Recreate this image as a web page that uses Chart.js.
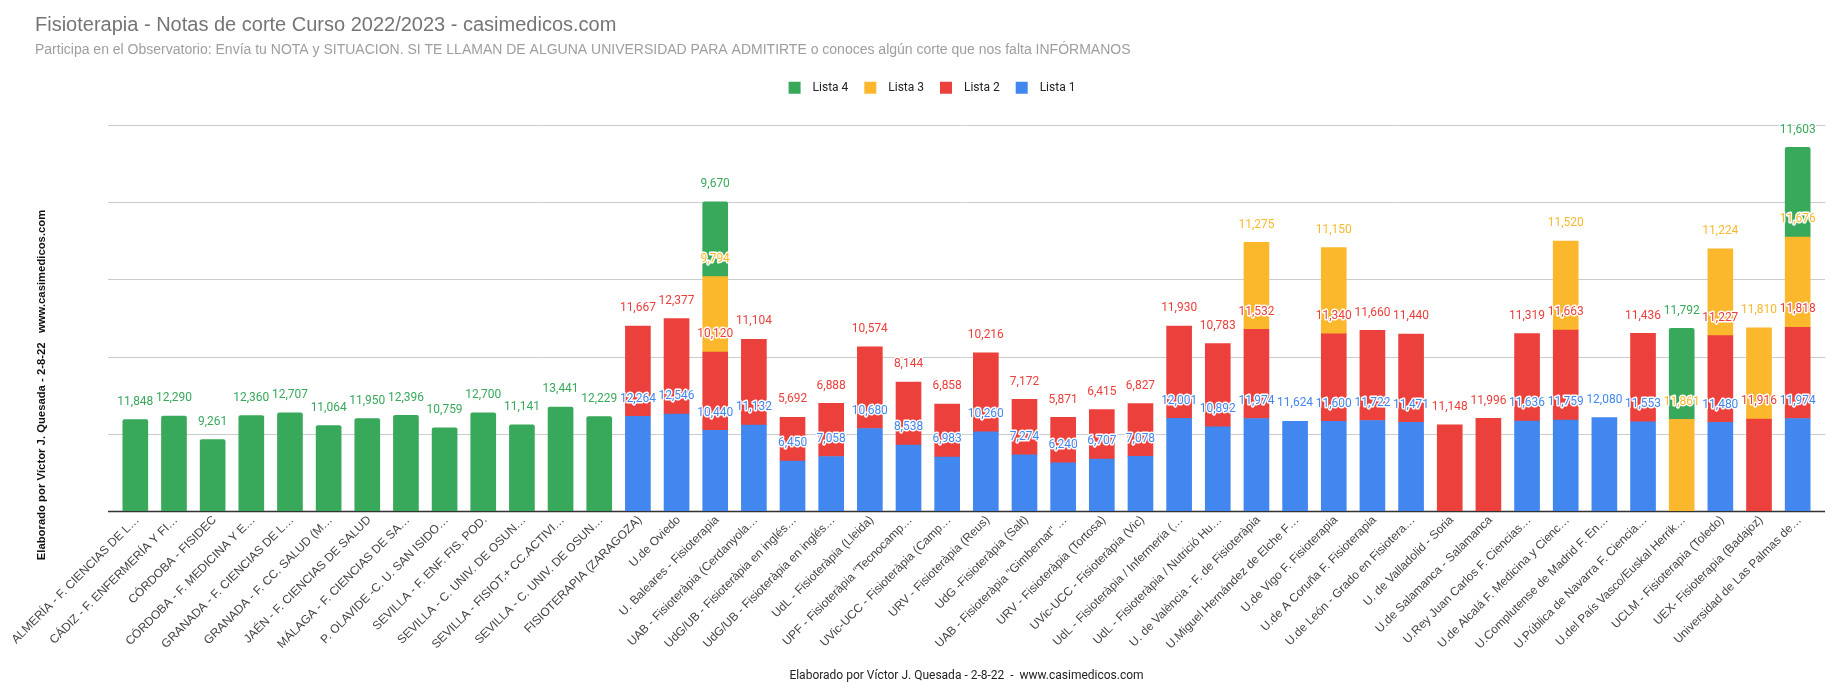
<!DOCTYPE html>
<html>
<head>
<meta charset="utf-8">
<title>Fisioterapia - Notas de corte</title>
<script src="https://cdn.jsdelivr.net/npm/chart.js@4"></script>
<style>
  html, body { margin: 0; padding: 0; background: #fff; }
  canvas { display: block; }
</style>
</head>
<body>
<canvas id="chart" width="1843" height="692"></canvas>
<script>
const categories = [
  "ALMERÍA - F. CIENCIAS DE L…", "CÁDIZ - F. ENFERMERÍA Y FI…", "CÓRDOBA - FISIDEC",
  "CÓRDOBA - F. MEDICINA Y E…", "GRANADA - F. CIENCIAS DE L…", "GRANADA - F. CC. SALUD (M…",
  "JAÉN - F. CIENCIAS DE SALUD", "MÁLAGA - F. CIENCIAS DE SA…", "P. OLAVIDE -C. U. SAN ISIDO…",
  "SEVILLA - F. ENF. FIS. POD.", "SEVILLA - C. UNIV. DE OSUN…", "SEVILLA - FISIOT.+ CC.ACTIVI…",
  "SEVILLA - C. UNIV. DE OSUN…", "FISIOTERAPIA (ZARAGOZA)", "U.de Oviedo",
  "U. Baleares - Fisioterapia", "UAB - Fisioteràpia (Cerdanyola…", "UdG/UB - Fisioteràpia en inglés…",
  "UdG/UB - Fisioteràpia en inglés…", "UdL - Fisioteràpia (Lleida)", "UPF - Fisioteràpia \"Tecnocamp…",
  "UVic-UCC - Fisioteràpia (Camp…", "URV - Fisioteràpia (Reus)", "UdG -Fisioteràpia (Salt)",
  "UAB - Fisioteràpia \"Gimbernat\" …", "URV - Fisioteràpia (Tortosa)", "UVic-UCC - Fisioteràpia (Vic)",
  "UdL - Fisioteràpia / Infermeria (…", "UdL - Fisioteràpia / Nutrició Hu…", "U. de València - F. de Fisioteràpia",
  "U.Miguel Hernández de Elche F…", "U.de Vigo F. Fisioterapia", "U.de A Coruña F. Fisioterapia",
  "U.de León - Grado en Fisiotera…", "U. de Valladolid - Soria", "U.de Salamanca - Salamanca",
  "U.Rey Juan Carlos F. Ciencias…", "U.de Alcalá F. Medicina y Cienc…", "U.Complutense de Madrid F. En…",
  "U.Pública de Navarra F. Ciencia…", "U.del País Vasco/Euskal Herrik…", "UCLM - Fisioterapia (Toledo)",
  "UEX- Fisioterapia (Badajoz)", "Universidad de Las Palmas de…"
];

const lista1 = [
  null, null, null, null, null, null, null, null, null, null, null, null, null,
  12264, 12546, 10440, 11132, 6450, 7058, 10680, 8538, 6983, 10260, 7274, 6240, 6707, 7078,
  12001, 10892, 11974, 11624, 11600, 11722, 11471, null, null, 11636, 11759, 12080, 11553,
  null, 11480, null, 11974
];
const lista2 = [
  null, null, null, null, null, null, null, null, null, null, null, null, null,
  11667, 12377, 10120, 11104, 5692, 6888, 10574, 8144, 6858, 10216, 7172, 5871, 6415, 6827,
  11930, 10783, 11532, null, 11340, 11660, 11440, 11148, 11996, 11319, 11663, null, 11436,
  null, 11227, 11916, 11818
];
const lista3 = [
  null, null, null, null, null, null, null, null, null, null, null, null, null,
  null, null, 9794, null, null, null, null, null, null, null, null, null, null, null,
  null, null, 11275, null, 11150, null, null, null, null, null, 11520, null, null,
  11861, 11224, 11810, 11676
];
const lista4 = [
  11848, 12290, 9261, 12360, 12707, 11064, 11950, 12396, 10759, 12700, 11141, 13441, 12229,
  null, null, 9670, null, null, null, null, null, null, null, null, null, null, null,
  null, null, null, null, null, null, null, null, null, null, null, null, null,
  11792, null, null, 11603
];

const BLUE = "#4287f0";
const RED = "#ec403c";
const YELLOW = "#fbb82d";
const GREEN = "#38a85b";

// lines run a bit wider than the bars, like the original
const LINE_LEFT = 108;
const LINE_RIGHT = 1825;

const extraDrawing = {
  id: "extraDrawing",
  afterLayout(chart) {
    // nudge the legend to where it sits in the original
    chart.legend.left += 6;
    chart.legend.right += 6;
    chart.legend.top -= 21;
    chart.legend.bottom -= 21;
  },
  beforeDatasetsDraw(chart) {
    const ctx = chart.ctx;
    const y = chart.scales.y;
    ctx.save();
    y.ticks.forEach((tick) => {
      const py = Math.round(y.getPixelForValue(tick.value)) + 0.5;
      ctx.strokeStyle = tick.value === 0 ? "#333333" : "#cccccc";
      ctx.lineWidth = tick.value === 0 ? 1.5 : 1;
      ctx.beginPath();
      ctx.moveTo(LINE_LEFT, py);
      ctx.lineTo(LINE_RIGHT, py);
      ctx.stroke();
    });
    ctx.restore();
  },
  afterDatasetsDraw(chart) {
    const ctx = chart.ctx;
    ctx.save();
    ctx.font = "13px Roboto";
    ctx.textAlign = "center";
    ctx.textBaseline = "middle";
    ctx.lineJoin = "round";
    chart.data.datasets.forEach((ds, i) => {
      chart.getDatasetMeta(i).data.forEach((bar, j) => {
        if (ds.data[j] == null) return;
        const text = ds.data[j].toLocaleString("en-US");
        // the original numbers are a little narrow
        ctx.save();
        ctx.translate(bar.x, bar.y - 18);
        ctx.scale(0.92, 1);
        ctx.strokeStyle = "#ffffff";
        ctx.lineWidth = 3;
        ctx.strokeText(text, 0, 0);
        ctx.fillStyle = ds.backgroundColor;
        ctx.fillText(text, 0, 0);
        ctx.restore();
      });
    });
    // side note along the y axis
    ctx.translate(42, 385);
    ctx.rotate(-Math.PI / 2);
    ctx.font = "bold 11.3px 'Liberation Sans'";
    ctx.fillStyle = "#111111";
    ctx.fillText("Elaborado por Víctor J. Quesada - 2-8-22   www.casimedicos.com", 0, 0);
    ctx.restore();
  },
};

new Chart(document.getElementById("chart"), {
  type: "bar",
  data: {
    labels: categories,
    datasets: [
      { label: "Lista 1", data: lista1, backgroundColor: BLUE },
      { label: "Lista 2", data: lista2, backgroundColor: RED },
      { label: "Lista 3", data: lista3, backgroundColor: YELLOW },
      { label: "Lista 4", data: lista4, backgroundColor: GREEN, borderRadius: { topLeft: 2, topRight: 2 } },
    ],
  },
  plugins: [extraDrawing],
  options: {
    responsive: false,
    animation: false,
    barThickness: 25,
    layout: { padding: { left: 35, right: 26, top: 0, bottom: 5 } },
    plugins: {
      title: {
        display: true,
        text: "Fisioterapia - Notas de corte Curso 2022/2023 - casimedicos.com",
        align: "start",
        color: "#757575",
        font: { family: "'Liberation Sans'", size: 20, weight: "normal" },
        padding: { top: 13, bottom: 5 },
      },
      subtitle: {
        display: true,
        text: "Participa en el Observatorio: Envía tu NOTA y SITUACION. SI TE LLAMAN DE ALGUNA UNIVERSIDAD PARA ADMITIRTE o conoces algún corte que nos falta INFÓRMANOS",
        align: "start",
        color: "#9e9e9e",
        font: { family: "'Liberation Sans'", size: 14, weight: "normal" },
        padding: { top: 0, bottom: 28 },
      },
      legend: {
        position: "top",
        reverse: true,
        labels: {
          boxWidth: 12,
          boxHeight: 12,
          padding: 16,
          color: "#222222",
          font: { family: "Roboto", size: 12 },
          // wider gap between swatch and text than the default
          generateLabels(chart) {
            const items = Chart.defaults.plugins.legend.labels.generateLabels(chart);
            items.forEach((item) => { item.text = "  " + item.text; });
            return items;
          },
        },
      },
      tooltip: { enabled: false },
    },
    scales: {
      x: {
        stacked: true,
        grid: { display: false },
        border: { display: false },
        ticks: {
          autoSkip: false,
          minRotation: 45,
          maxRotation: 45,
          padding: -6,
          labelOffset: 2,
          color: "#444444",
          font: { family: "'Liberation Sans'", size: 12 },
        },
        title: {
          display: true,
          text: "Elaborado por Víctor J. Quesada - 2-8-22  -  www.casimedicos.com",
          color: "#222222",
          font: { family: "Roboto", size: 12 },
        },
        afterFit(scale) {
          scale.height = 176;
        },
      },
      y: {
        stacked: true,
        min: 0,
        max: 50000,
        grid: { display: false },
        border: { display: false },
        ticks: { display: false, stepSize: 10000 },
        afterFit(scale) {
          scale.width = 81;
        },
      },
    },
  },
});
</script>
</body>
</html>
